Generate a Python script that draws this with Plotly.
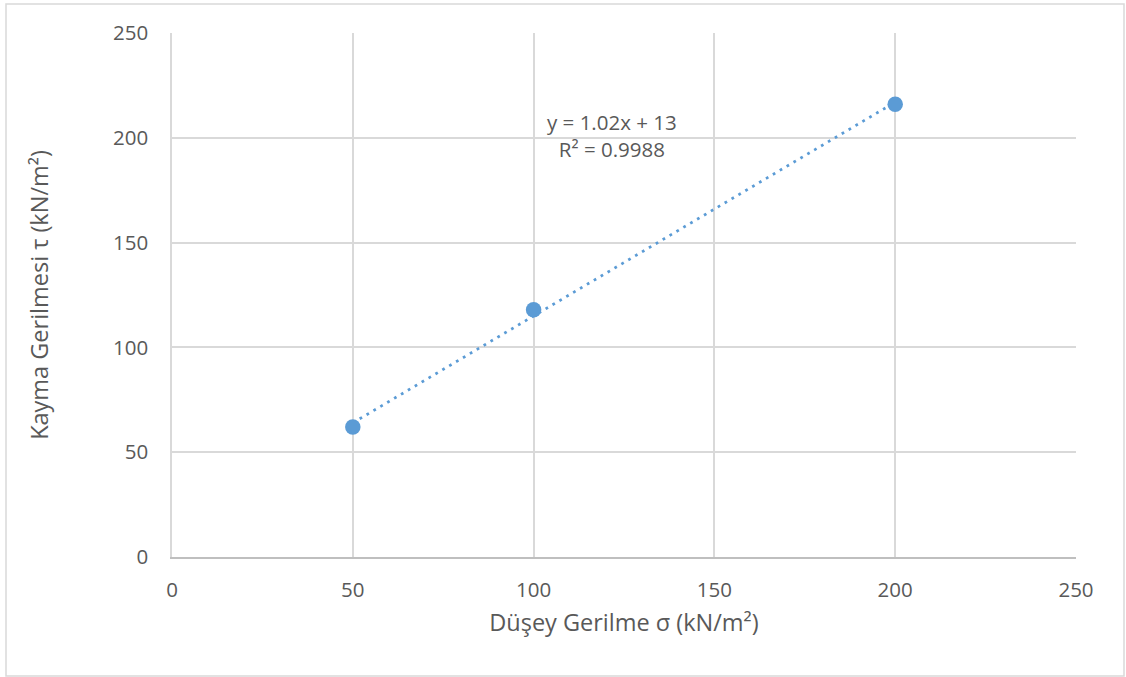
import plotly.graph_objects as go

# Direct shear test results
normal_stress = [50, 100, 200]      # σ (kN/m²)
shear_stress = [62, 118, 216]       # τ (kN/m²)

# Linear trendline fitted to the points
slope = 1.02
intercept = 13
r_squared = 0.9988

tick_vals = [0, 50, 100, 150, 200, 250]

FONT = "Open Sans"
TEXT = "#595959"
BLUE = "#5b9bd5"
GRID = "#d9d9d9"

trend_x = [min(normal_stress), max(normal_stress)]
trend_y = [slope * x + intercept for x in trend_x]

fig = go.Figure()
fig.add_trace(go.Scatter(
    x=trend_x, y=trend_y, mode="lines",
    line=dict(color=BLUE, width=2.75, dash="2.75px,5.25px"),
    hoverinfo="skip", showlegend=False,
))
fig.add_trace(go.Scatter(
    x=normal_stress, y=shear_stress, mode="markers",
    marker=dict(color=BLUE, size=15.5),
    showlegend=False,
))

fig.add_annotation(
    x=121.7, y=201, xref="x", yref="y",
    text=f"y = {slope}x + {intercept}<br>R² = {r_squared}",
    showarrow=False, align="center",
    font=dict(family=FONT, size=20.5, color=TEXT),
)

# Chart-area border
L, R, T, B = 172, 1076, 33, 557
pw, ph = R - L, B - T
fig.add_shape(
    type="rect", xref="paper", yref="paper",
    x0=(6 - L) / pw, x1=(1124 - L) / pw,
    y0=(B - 676) / ph, y1=(B - 4) / ph,
    line=dict(color="#d9d9d9", width=1.5), layer="below",
)

axis_common = dict(
    range=[0, 250], tickvals=tick_vals,
    showgrid=True, gridcolor=GRID, gridwidth=1.5,
    zeroline=False, ticks="",
    tickfont=dict(family=FONT, size=20.5, color=TEXT),
)

fig.update_layout(
    width=1126, height=677,
    margin=dict(l=L, r=1126 - R, t=T, b=677 - B),
    paper_bgcolor="white", plot_bgcolor="white",
    xaxis=dict(
        **axis_common,
        showline=True, linecolor="#bfbfbf", linewidth=1.5,
        ticklabelstandoff=14,
        title=dict(text="Düşey Gerilme σ (kN/m²)", standoff=12,
                   font=dict(family=FONT, size=23.5, color=TEXT)),
    ),
    yaxis=dict(
        **axis_common,
        showline=True, linecolor=GRID, linewidth=1.5,
        ticklabelstandoff=18,
        title=dict(text="Kayma Gerilmesi τ (kN/m²)", standoff=58,
                   font=dict(family=FONT, size=23.5, color=TEXT)),
    ),
)

fig.write_html("out.html")
